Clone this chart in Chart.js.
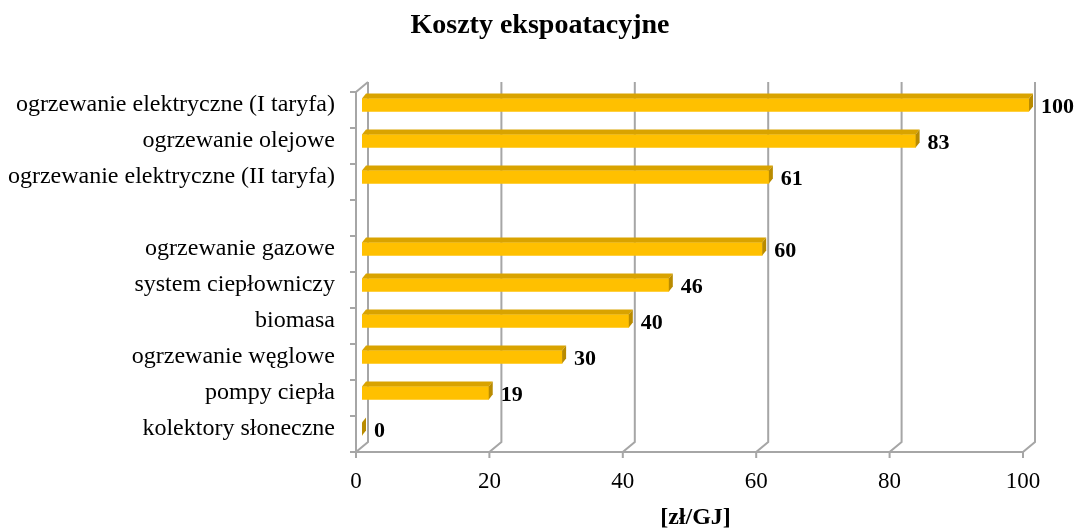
<!DOCTYPE html>
<html>
<head>
    <title>Koszty ekspoatacyjne</title>
    <script src="https://cdn.jsdelivr.net/npm/chart.js"></script>
    <style>
        body {
            margin: 0;
            background: #ffffff;
        }
        canvas {
            display: block;
        }
    </style>
</head>
<body>
    <canvas id="costChart" width="1080" height="530"></canvas>

    <script>
        // Data
        const categories = [
            'ogrzewanie elektryczne (I taryfa)',
            'ogrzewanie olejowe',
            'ogrzewanie elektryczne (II taryfa)',
            '',
            'ogrzewanie gazowe',
            'system ciepłowniczy',
            'biomasa',
            'ogrzewanie węglowe',
            'pompy ciepła',
            'kolektory słoneczne'
        ];
        const costValues = [100, 83, 61, null, 60, 46, 40, 30, 19, 0];
        const xTicks = [0, 20, 40, 60, 80, 100];
        const chartTitle = 'Koszty ekspoatacyjne';

        const serif = '"Liberation Serif", "Times New Roman", serif';
        const lineColor = '#a6a6a6';
        const depthX = 6;   // half depth of the 3D box
        const depthY = 5;

        // Draws the 3D walls, floor, back gridlines, bar faces and the title
        const wallsPlugin = {
            id: 'walls',
            beforeDatasetsDraw(chart) {
                const ctx = chart.ctx;
                const xs = chart.scales.x;
                const area = chart.chartArea;
                ctx.save();

                // title centred on the whole canvas
                ctx.fillStyle = '#000000';
                ctx.font = 'bold 28px ' + serif;
                ctx.textAlign = 'center';
                ctx.textBaseline = 'middle';
                ctx.fillText(chartTitle, chart.width / 2, 26);

                ctx.strokeStyle = lineColor;
                ctx.lineWidth = 2;

                // gridlines on the back wall running down to the front floor edge
                xTicks.forEach(v => {
                    const x = xs.getPixelForValue(v);
                    ctx.beginPath();
                    ctx.moveTo(x + depthX, area.top - depthY);
                    ctx.lineTo(x + depthX, area.bottom - depthY);
                    ctx.lineTo(x - depthX, area.bottom + depthY);
                    ctx.lineTo(x - depthX, area.bottom + depthY + 6);
                    ctx.stroke();
                });

                // left wall front edge + top diagonal
                const x0 = xs.getPixelForValue(0);
                ctx.beginPath();
                ctx.moveTo(x0 + depthX, area.top - depthY);
                ctx.lineTo(x0 - depthX, area.top + depthY);
                ctx.lineTo(x0 - depthX, area.bottom + depthY);
                ctx.stroke();

                // floor front edge
                ctx.beginPath();
                ctx.moveTo(x0 - depthX - 6, area.bottom + depthY);
                ctx.lineTo(xs.getPixelForValue(100) - depthX, area.bottom + depthY);
                ctx.stroke();

                // category tick marks on the left wall
                const step = (area.bottom - area.top) / categories.length;
                for (let i = 0; i <= categories.length; i++) {
                    const y = area.top + depthY + i * step;
                    ctx.beginPath();
                    ctx.moveTo(x0 - depthX - 6, y);
                    ctx.lineTo(x0 - depthX, y);
                    ctx.stroke();
                }
                ctx.restore();
            },
            afterDatasetsDraw(chart) {
                const ctx = chart.ctx;
                const meta = chart.getDatasetMeta(0);
                const d = 4, dy = 5;
                ctx.save();
                meta.data.forEach((bar, i) => {
                    const v = costValues[i];
                    if (v === null) return;
                    const p = bar.getProps(['x', 'y', 'base', 'height'], true);
                    const top = p.y - p.height / 2;
                    const bottom = p.y + p.height / 2;
                    const x0 = p.base, x1 = p.x;
                    // top face
                    ctx.fillStyle = '#d9a300';
                    ctx.beginPath();
                    ctx.moveTo(x0, top);
                    ctx.lineTo(x0 + d, top - dy);
                    ctx.lineTo(x1 + d, top - dy);
                    ctx.lineTo(x1, top);
                    ctx.closePath();
                    ctx.fill();
                    // side face
                    ctx.fillStyle = '#b98b00';
                    ctx.beginPath();
                    ctx.moveTo(x1, top);
                    ctx.lineTo(x1 + d, top - dy);
                    ctx.lineTo(x1 + d, bottom - dy);
                    ctx.lineTo(x1, bottom);
                    ctx.closePath();
                    ctx.fill();
                    // value label
                    ctx.fillStyle = '#000000';
                    ctx.font = 'bold 22px ' + serif;
                    ctx.textAlign = 'left';
                    ctx.textBaseline = 'middle';
                    ctx.fillText(String(v), x1 + 12, p.y + 2);
                });
                ctx.restore();
            }
        };

        const ctx = document.getElementById('costChart').getContext('2d');
        new Chart(ctx, {
            type: 'bar',
            data: {
                labels: categories,
                datasets: [{
                    data: costValues,
                    backgroundColor: '#ffc000',
                    borderWidth: 0,
                    barThickness: 13
                }]
            },
            options: {
                indexAxis: 'y',
                responsive: false,
                animation: false,
                layout: {
                    padding: { top: 87, right: 51, bottom: 0, left: 0 }
                },
                plugins: {
                    legend: { display: false },
                    tooltip: { enabled: false },
                    title: { display: false }
                },
                scales: {
                    x: {
                        min: 0,
                        max: 100,
                        afterBuildTicks(scale) {
                            scale.ticks = xTicks.map(v => ({ value: v }));
                        },
                        afterFit(scale) {
                            scale.height = 83;
                        },
                        grid: { display: false, drawTicks: false },
                        border: { display: false },
                        ticks: {
                            color: '#000000',
                            font: { family: serif, size: 23 },
                            padding: 21,
                            labelOffset: -6
                        },
                        title: {
                            display: true,
                            text: '[zł/GJ]',
                            color: '#000000',
                            font: { family: serif, size: 24, weight: 'bold' },
                            padding: { top: 0, bottom: -2 }
                        }
                    },
                    y: {
                        afterFit(scale) {
                            scale.width = 362;
                        },
                        grid: { display: false, drawTicks: false },
                        border: { display: false },
                        ticks: {
                            color: '#000000',
                            font: { family: serif, size: 24 },
                            padding: 27,
                            autoSkip: false
                        }
                    }
                }
            },
            plugins: [wallsPlugin]
        });
    </script>
</body>
</html>
